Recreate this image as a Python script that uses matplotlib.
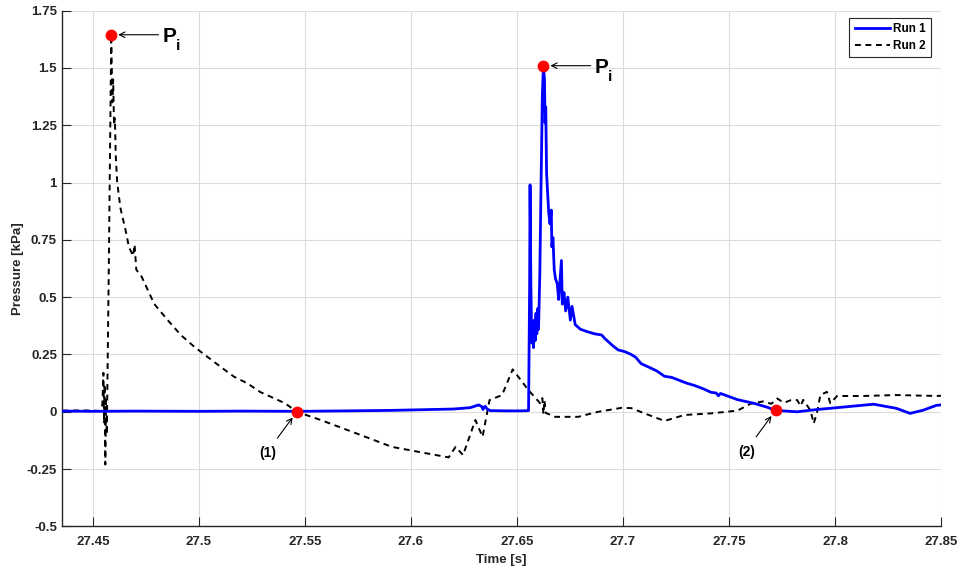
import matplotlib
matplotlib.use("Agg")
import matplotlib.pyplot as plt

plt.rcParams["font.family"] = ["Liberation Sans", "DejaVu Sans"]

# Run 1 pressure trace (time in s, pressure in kPa)
run1_t = [27.4357, 27.45, 27.47, 27.5, 27.52, 27.547, 27.57, 27.59, 27.61, 27.62,
          27.628, 27.632, 27.6335, 27.634, 27.635, 27.636, 27.6375, 27.645, 27.652,
          27.6555, 27.6560, 27.6562, 27.6566, 27.6570, 27.6574, 27.6578, 27.6582,
          27.6586, 27.6590, 27.6594, 27.6598, 27.6602, 27.6608, 27.6614, 27.6620,
          27.6625, 27.6630, 27.6633, 27.6636, 27.6640, 27.6644, 27.6650, 27.6656,
          27.6662, 27.6665, 27.6670, 27.6676, 27.6682, 27.6690, 27.6697, 27.6710,
          27.6714, 27.6722, 27.6730, 27.6740, 27.6752, 27.6760, 27.6775, 27.6800,
          27.6830, 27.6867, 27.6900, 27.6914, 27.6950, 27.6977, 27.7010, 27.7039,
          27.7060, 27.7086, 27.7133, 27.7160, 27.7196, 27.7230, 27.7258, 27.7300,
          27.7337, 27.7380, 27.7415, 27.7440, 27.7450, 27.7460, 27.754, 27.7618,
          27.768, 27.772, 27.7822, 27.7916, 27.801, 27.8182, 27.829, 27.8354,
          27.8416, 27.8478, 27.85]
run1_p = [0.003, 0.002, 0.003, 0.002, 0.003, 0.002, 0.004, 0.006, 0.010, 0.012,
          0.018, 0.030, 0.022, 0.010, 0.024, 0.012, 0.005, 0.004, 0.004,
          0.005, 0.55, 0.99, 0.55, 0.30, 0.39, 0.28, 0.40,
          0.31, 0.43, 0.34, 0.45, 0.36, 0.60, 1.00, 1.38,
          1.51, 1.45, 1.26, 1.33, 1.04, 0.97, 0.87, 0.82,
          0.88, 0.72, 0.76, 0.62, 0.58, 0.56, 0.49, 0.66,
          0.47, 0.52, 0.44, 0.50, 0.40, 0.46, 0.38, 0.36,
          0.35, 0.34, 0.335, 0.32, 0.29, 0.27, 0.262, 0.25,
          0.238, 0.21, 0.19, 0.178, 0.155, 0.150, 0.14, 0.125,
          0.115, 0.100, 0.085, 0.082, 0.070, 0.080, 0.053, 0.037,
          0.020, 0.006, 0.0, 0.010, 0.018, 0.033, 0.015, -0.007,
          0.007, 0.028, 0.030]

# Run 2 pressure trace
run2_t = [27.4357, 27.445, 27.453, 27.4545, 27.4550, 27.4553, 27.4556, 27.4559,
          27.4562, 27.4566, 27.4575, 27.4587, 27.4592, 27.4596, 27.4600, 27.4604,
          27.4608, 27.4615, 27.4630, 27.4655, 27.4670, 27.4690, 27.4697, 27.4705,
          27.4730, 27.4760, 27.4790, 27.4853, 27.4915, 27.4978, 27.504, 27.5103,
          27.5166, 27.5229, 27.529, 27.5407, 27.5462, 27.5575, 27.5742, 27.591,
          27.6078, 27.6178, 27.6211, 27.6246, 27.6304, 27.6338, 27.6371, 27.643,
          27.648, 27.6554, 27.661, 27.6620, 27.6625, 27.6630, 27.6636, 27.668,
          27.6789, 27.6883, 27.6992, 27.7039, 27.7102, 27.7196, 27.729, 27.7415,
          27.754, 27.7602, 27.7660, 27.7700, 27.7728, 27.7759, 27.7790, 27.7822,
          27.7838, 27.7850, 27.7884, 27.7900, 27.7916, 27.7931, 27.7962, 27.7978,
          27.801, 27.8135, 27.829, 27.8478, 27.85]
run2_p = [0.005, 0.006, 0.004, 0.03, 0.17, -0.05, 0.12, -0.23,
          0.05, -0.10, 0.60, 1.645, 1.35, 1.45, 1.25, 1.28,
          1.12, 1.00, 0.89, 0.79, 0.72, 0.68, 0.73, 0.62,
          0.59, 0.53, 0.47, 0.40, 0.335, 0.284, 0.24, 0.196,
          0.153, 0.124, 0.086, 0.037, 0.0, -0.036, -0.094, -0.153,
          -0.182, -0.199, -0.153, -0.189, -0.036, -0.109, 0.051, 0.073,
          0.185, 0.095, 0.037, 0.06, -0.01, 0.05, -0.005, -0.022,
          -0.022, 0.0, 0.017, 0.016, -0.007, -0.040, -0.014, -0.007,
          0.005, 0.035, 0.045, 0.035, 0.058, 0.039, 0.050, 0.051,
          0.025, 0.052, 0.007, -0.051, 0.0, 0.073, 0.087, 0.037,
          0.069, 0.069, 0.073, 0.069, 0.070]

# Marked events: impact peaks and zero crossings
event_t = [27.4587, 27.6625, 27.5462, 27.7720]
event_p = [1.645, 1.51, 0.0, 0.006]
event_labels = ["P", "P", "(1)", "(2)"]

x_ticks = [27.45, 27.5, 27.55, 27.6, 27.65, 27.7, 27.75, 27.8, 27.85]
x_tick_labels = ["27.45", "27.5", "27.55", "27.6", "27.65", "27.7", "27.75", "27.8", "27.85"]
y_ticks = [-0.5, -0.25, 0, 0.25, 0.5, 0.75, 1, 1.25, 1.5, 1.75]
y_tick_labels = ["-0.5", "-0.25", "0", "0.25", "0.5", "0.75", "1", "1.25", "1.5", "1.75"]

dark = "#262626"

fig = plt.figure(figsize=(9.6, 5.69), dpi=100)
ax = fig.add_axes([0.0651, 0.0749, 0.9151, 0.9063])

ax.plot(run1_t, run1_p, color="#0000FF", lw=2.0, label="Run 1", zorder=3)
ax.plot(run2_t, run2_p, color="black", lw=1.4, ls=(0, (3.0, 2.4)), label="Run 2", zorder=2)
ax.plot(event_t, event_p, ls="none", marker="o", ms=8.5, color="#FF0000",
        markeredgewidth=0, zorder=5)

arrow = dict(arrowstyle="->", color="black", lw=0.8, shrinkA=0, shrinkB=5,
             mutation_scale=10)
# Peak labels (P with subscript i) to the right of the dots
for t, p, lab in zip(event_t[:2], event_p[:2], event_labels[:2]):
    ax.annotate("", xy=(t, p), xytext=(34, 0), textcoords="offset points",
                arrowprops=arrow)
    ax.annotate(lab, xy=(t, p), xytext=(37, -5), textcoords="offset points",
                ha="left", va="baseline", fontsize=15, fontweight="bold", color="black")
    ax.annotate("i", xy=(t, p), xytext=(46.5, -11), textcoords="offset points",
                ha="left", va="baseline", fontsize=11, fontweight="bold", color="black")
# Zero-crossing labels below-left of the dots
for t, p, lab in zip(event_t[2:], event_p[2:], event_labels[2:]):
    ax.annotate("", xy=(t, p), xytext=(-14, -19), textcoords="offset points",
                arrowprops=arrow)
    ax.annotate(lab, xy=(t, p), xytext=(-21, -30), textcoords="offset points",
                ha="center", va="center", fontsize=10, fontweight="bold", color="black")

ax.set_xlim(27.4357, 27.85)
ax.set_ylim(-0.5, 1.75)
ax.set_xticks(x_ticks)
ax.set_xticklabels(x_tick_labels)
ax.set_yticks(y_ticks)
ax.set_yticklabels(y_tick_labels)

ax.grid(True, color="#dcdcdc", lw=0.8)
ax.set_axisbelow(True)
for side in ("top", "right"):
    ax.spines[side].set_visible(False)
for side in ("left", "bottom"):
    ax.spines[side].set_color(dark)
    ax.spines[side].set_linewidth(1.0)

ax.tick_params(direction="in", length=6.5, width=0.8, color=dark,
               labelsize=9.5, labelcolor=dark)
ax.tick_params(axis="x", pad=7)
ax.tick_params(axis="y", pad=4)
for lbl in ax.get_xticklabels() + ax.get_yticklabels():
    lbl.set_fontweight("bold")

ax.set_xlabel("Time [s]", fontsize=9.5, fontweight="bold", color=dark, labelpad=4)
ax.set_ylabel("Pressure [kPa]", fontsize=9.5, fontweight="bold", color=dark, labelpad=2)

leg = ax.legend(loc="upper right", bbox_to_anchor=(0.9886, 0.9864), borderaxespad=0,
                fancybox=False, framealpha=1, edgecolor=dark,
                handlelength=3.0, handletextpad=0.25, borderpad=0.45,
                labelspacing=0.4, prop={"weight": "bold", "size": 8.5})
leg.get_frame().set_linewidth(0.8)

fig.savefig("out.png", dpi=100)
